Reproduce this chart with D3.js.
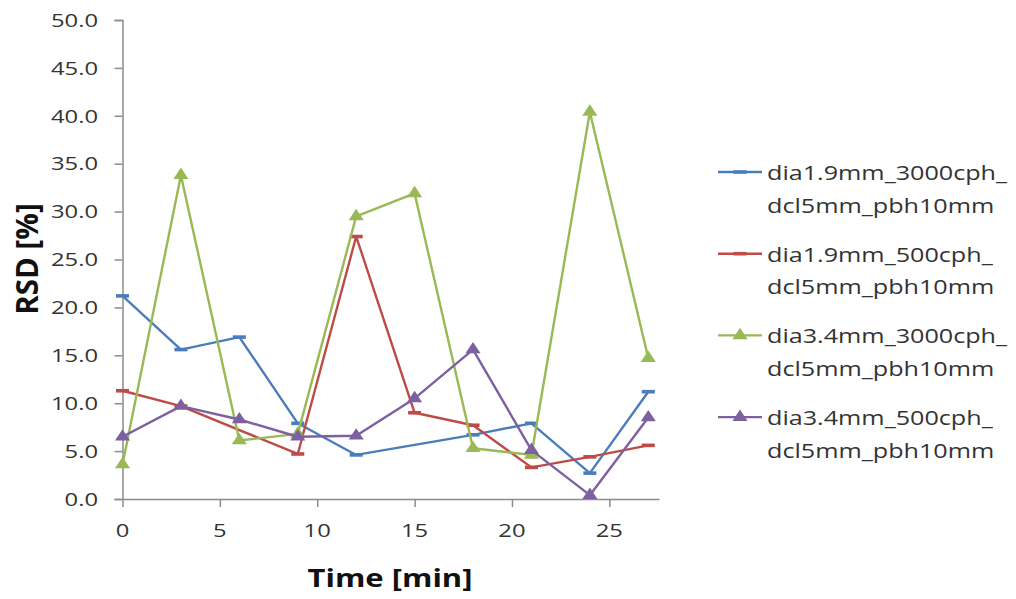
<!DOCTYPE html>
<html>
<head>
<meta charset="utf-8">
<script src="https://cdn.jsdelivr.net/npm/d3@7"></script>
<style>
  html, body { margin: 0; padding: 0; background: #fff; }
  svg { display: block; }
  text { font-family: "Open Sans", "Noto Sans", sans-serif; fill: #333; }
</style>
</head>
<body>
<svg id="chart" width="1016" height="599"></svg>
<script>
// RSD over time for four nozzle / throughput configurations
const time = [0, 3, 6, 9, 12, 15, 18, 21, 24, 27];
const seriesNames = [
  ["dia1.9mm_3000cph_", "dcl5mm_pbh10mm"],
  ["dia1.9mm_500cph_", "dcl5mm_pbh10mm"],
  ["dia3.4mm_3000cph_", "dcl5mm_pbh10mm"],
  ["dia3.4mm_500cph_", "dcl5mm_pbh10mm"]
];
const dia19_3000 = [21.2, 15.6, 16.9, 7.9, 4.6, null, 6.7, 7.9, 2.7, 11.2];
const dia19_500  = [11.3, 9.7, null, 4.7, 27.4, 9.0, 7.7, 3.3, 4.4, 5.6];
const dia34_3000 = [3.6, 33.8, 6.1, 6.8, 29.5, 31.9, 5.3, 4.6, 40.4, 14.7];
const dia34_500  = [6.5, 9.7, 8.3, 6.5, 6.6, 10.5, 15.6, 5.1, 0.4, 8.5];
const yTicks = [0, 5, 10, 15, 20, 25, 30, 35, 40, 45, 50];
const xTicks = [0, 5, 10, 15, 20, 25];
const xAxisMax = 27.55;

const colors = ["#4a7ebb", "#be4b48", "#98b954", "#7d60a0"];
const markers = ["dash", "dash", "triangle", "triangle"];
const values = [dia19_3000, dia19_500, dia34_3000, dia34_500];

const svg = d3.select("#chart");
const axisColor = "#8c8c8c";
const sx = 1.28; // horizontal text stretch

const x = d3.scaleLinear().domain([0, xAxisMax]).range([122.5, 659]);
const y = d3.scaleLinear().domain([0, 50]).range([499, 20]);

// y axis
const yAxis = svg.append("g").attr("transform", `translate(${x(0)},0)`)
  .call(d3.axisLeft(y).tickValues(yTicks).tickSize(8).tickFormat(""));
yAxis.select(".domain").attr("stroke", axisColor).attr("stroke-width", 1.5);
yAxis.selectAll(".tick line").attr("stroke", axisColor).attr("stroke-width", 1.5);

// x axis
const xAxis = svg.append("g").attr("transform", `translate(0,${y(0)})`)
  .call(d3.axisBottom(x).tickValues(xTicks).tickSize(8).tickSizeOuter(0).tickFormat(""));
xAxis.select(".domain").attr("stroke", axisColor).attr("stroke-width", 1.5);
xAxis.selectAll(".tick line").attr("stroke", axisColor).attr("stroke-width", 1.5);

// tick labels
svg.append("g").selectAll("text").data(yTicks).join("text")
  .attr("transform", d => `translate(98,${y(d)}) scale(${sx},1)`)
  .attr("text-anchor", "end").attr("dy", "0.36em")
  .style("font-size", "18.6px")
  .text(d => d.toFixed(1));

svg.append("g").selectAll("text").data(xTicks).join("text")
  .attr("transform", d => `translate(${x(d)},530) scale(${sx},1)`)
  .attr("text-anchor", "middle").attr("dy", "0.36em")
  .style("font-size", "18.6px")
  .text(d => d);

// axis titles
svg.append("text")
  .attr("transform", `translate(390,578) scale(1.24,1)`)
  .attr("text-anchor", "middle").attr("dy", "0.36em")
  .style("font-size", "25px").style("font-weight", "bold").style("fill", "#111")
  .text("Time [min]");

svg.append("text")
  .attr("transform", "translate(27,259) rotate(-90)")
  .attr("text-anchor", "middle").attr("dy", "0.36em")
  .style("font-size", "29.5px").style("font-weight", "bold").style("fill", "#111")
  .text("RSD [%]");

const tri = d3.symbol().type(d3.symbolTriangle).size(75);

function drawMarker(g, kind, color) {
  if (kind === "dash") {
    g.append("rect").attr("x", -6.5).attr("y", -1.8).attr("width", 13).attr("height", 3.6)
      .attr("fill", color);
  } else {
    g.append("path").attr("d", tri).attr("transform", "scale(1.15,1)").attr("fill", color);
  }
}

const line = d3.line().x(d => x(d.t)).y(d => y(d.v));

values.forEach((vals, i) => {
  const pts = time.map((t, k) => ({ t, v: vals[k] })).filter(d => d.v !== null);
  const g = svg.append("g");
  g.append("path").datum(pts).attr("d", line)
    .attr("fill", "none").attr("stroke", colors[i]).attr("stroke-width", 2.4)
    .attr("stroke-linejoin", "round");
  pts.forEach(p => {
    const m = g.append("g").attr("transform", `translate(${x(p.t)},${y(p.v)})`);
    drawMarker(m, markers[i], colors[i]);
  });
});

// legend
const legendTop = 172;
const legendStep = 81.7;
seriesNames.forEach((lines, i) => {
  const ly = legendTop + i * legendStep;
  const g = svg.append("g");
  g.append("line").attr("x1", 718).attr("x2", 762).attr("y1", ly).attr("y2", ly)
    .attr("stroke", colors[i]).attr("stroke-width", 2.4);
  const m = g.append("g").attr("transform", `translate(740,${ly})`);
  drawMarker(m, markers[i], colors[i]);
  lines.forEach((s, j) => {
    g.append("text")
      .attr("transform", `translate(767,${ly + 1 + j * 32.5}) scale(1.29,1)`)
      .attr("dy", "0.36em")
      .style("font-size", "19.5px")
      .text(s);
  });
});
</script>
</body>
</html>
